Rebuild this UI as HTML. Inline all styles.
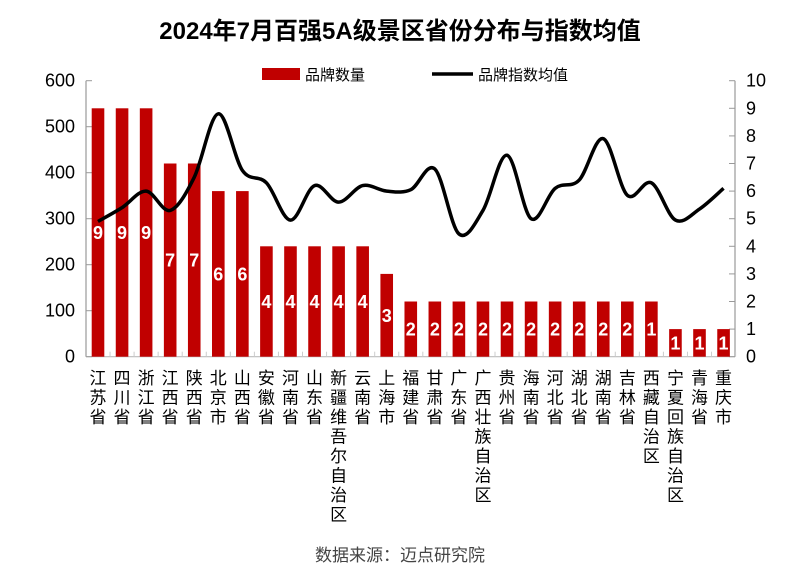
<!DOCTYPE html>
<html><head><meta charset="utf-8"><style>
body{margin:0;background:#fff;}
svg text{font-family:"Liberation Sans","Noto Sans CJK SC",sans-serif;}
</style></head><body>
<svg id="s" width="800" height="579" viewBox="0 0 800 579" xmlns="http://www.w3.org/2000/svg">
<text x="400" y="39" text-anchor="middle" font-size="24" font-weight="bold" fill="#000">2024年7月百强5A级景区省份分布与指数均值</text>
<rect x="262" y="68" width="38" height="12" fill="#c00000"/>
<text x="305" y="80" font-size="15" fill="#000">品牌数量</text>
<line x1="432" y1="74" x2="473" y2="74" stroke="#000" stroke-width="3.5"/>
<text x="478" y="80" font-size="15" fill="#000">品牌指数均值</text>
<text x="400" y="561" text-anchor="middle" font-size="17" fill="#444">数据来源：迈点研究院</text>
<g id="g"></g>
</svg>
<script>
var names=["江苏省","四川省","浙江省","江西省","陕西省","北京市","山西省","安徽省","河南省","山东省","新疆维吾尔自治区","云南省","上海市","福建省","甘肃省","广东省","广西壮族自治区","贵州省","海南省","河北省","湖北省","湖南省","吉林省","西藏自治区","宁夏回族自治区","青海省","重庆市"];
var vals=[540,540,540,420,420,360,360,240,240,240,240,240,180,120,120,120,120,120,120,120,120,120,120,120,60,60,60];
var labs=[9,9,9,7,7,6,6,4,4,4,4,4,3,2,2,2,2,2,2,2,2,2,2,1,1,1,1];
var line=[4.9,5.4,6.0,5.3,6.5,8.8,6.75,6.3,4.95,6.2,5.6,6.2,6.0,6.05,6.8,4.45,5.3,7.3,5.0,6.1,6.4,7.9,5.85,6.3,4.95,5.35,6.1];
var y0=356.7,sc=276/600,rs=27.6,x0=98,dx=24.06;
var h='';
h+='<line x1="86" y1="80.7" x2="86" y2="'+y0+'" stroke="#999" stroke-width="1.2"/>';
h+='<line x1="735" y1="80.7" x2="735" y2="'+y0+'" stroke="#999" stroke-width="1.2"/>';
h+='<line x1="86" y1="'+y0+'" x2="735" y2="'+y0+'" stroke="#bbb" stroke-width="1.2"/>';
for(var i=0;i<=6;i++){var y=y0-i*100*sc;h+='<line x1="86" y1="'+y+'" x2="92" y2="'+y+'" stroke="#999"/>';h+='<text x="75" y="'+(y+6)+'" text-anchor="end" font-size="18" fill="#000">'+(i*100)+'</text>';}
for(var i=0;i<=10;i++){var y=y0-i*rs;h+='<line x1="729" y1="'+y+'" x2="735" y2="'+y+'" stroke="#999"/>';h+='<text x="746" y="'+(y+6)+'" font-size="18" fill="#000">'+i+'</text>';}
for(var i=0;i<27;i++){
 var cx=x0+i*dx,bh=vals[i]*sc;
 h+='<line x1="'+(cx+dx/2)+'" y1="'+y0+'" x2="'+(cx+dx/2)+'" y2="'+(y0-5)+'" stroke="#ccc"/>';
 h+='<rect x="'+(cx-6.3)+'" y="'+(y0-bh)+'" width="12.6" height="'+bh+'" fill="#c00000"/>';
 var ty=y0-bh/2+6.5;
 h+='<text x="'+cx+'" y="'+ty+'" text-anchor="middle" font-size="18" font-weight="bold" fill="#fff">'+labs[i]+'</text>';
 var n=names[i];
 for(var k=0;k<n.length;k++) h+='<text x="'+cx+'" y="'+(384+k*19.5)+'" text-anchor="middle" font-size="17" fill="#000">'+n[k]+'</text>';
}
var P=line.map(function(v,i){return [x0+i*dx,y0-v*rs];});
var d='M'+P[0][0]+','+P[0][1];
for(var i=0;i<P.length-1;i++){
 var p0=P[Math.max(i-1,0)],p1=P[i],p2=P[i+1],p3=P[Math.min(i+2,P.length-1)];
 var t=1/6;
 d+=' C'+(p1[0]+(p2[0]-p0[0])*t)+','+(p1[1]+(p2[1]-p0[1])*t)+' '+(p2[0]-(p3[0]-p1[0])*t)+','+(p2[1]-(p3[1]-p1[1])*t)+' '+p2[0]+','+p2[1];
}
h+='<path d="'+d+'" fill="none" stroke="#000" stroke-width="3.5" stroke-linejoin="round"/>';
document.getElementById('g').innerHTML=h;
</script>
</body></html>
